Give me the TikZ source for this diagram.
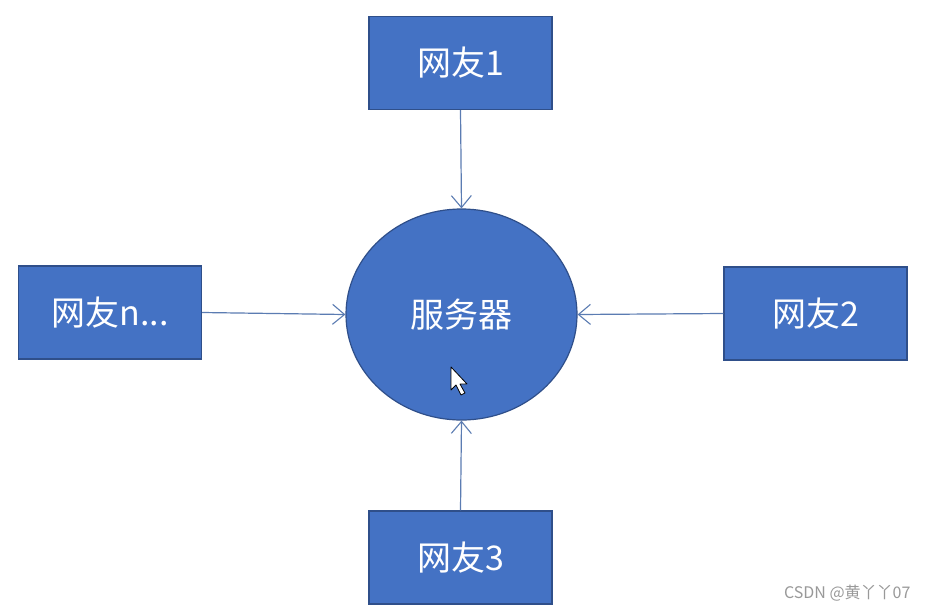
\documentclass[tikz,border=0pt]{standalone}
\usepackage{fontspec}
\newfontfamily\cjk{Noto Sans CJK SC}
\usetikzlibrary{arrows.meta,shapes.geometric}
\definecolor{boxfill}{HTML}{4472C4}
\definecolor{boxline}{HTML}{2F4F8A}
\definecolor{linkcol}{HTML}{5B7CB2}
\begin{document}
\begin{tikzpicture}[x=1pt,y=-1pt,
  friend/.style={draw=boxline,line width=1.2pt,fill=boxfill,minimum width=183pt,minimum height=93pt,inner sep=0pt,text=white,font=\cjk\fontsize{34}{38}\selectfont},
  server/.style={ellipse,draw=boxline,line width=1.2pt,fill=boxfill,minimum width=231pt,minimum height=211pt,inner sep=0pt,text=white,font=\cjk\fontsize{34}{38}\selectfont},
  link/.style={draw=linkcol,line width=1.2pt,-{Straight Barb[length=12pt,width=20pt,line width=1.1pt]}}]
\useasboundingbox (0,0) rectangle (929,611);
\fill[white] (0,0) rectangle (929,611);
\node[server] (srv) at (461.5,314.5) {服务器};
\node[friend] (f1) at (460.5,63) {网友1};
\node[friend] (fn) at (110,312.5) {网友n...};
\node[friend] (f2) at (815.5,313.5) {网友2};
\node[friend] (f3) at (460.5,557.5) {网友3};
\draw[link] (f1.south) -- (srv.north);
\draw[link] (fn.east) -- (srv.west);
\draw[link] (f2.west) -- (srv.east);
\draw[link] (f3.north) -- (srv.south);
\draw[fill=white,draw=black,line width=0.8pt,line join=round] (451,367) -- (451,390) -- (456,385) -- (461,395) -- (465,393) -- (460,384) -- (467,384) -- cycle;
\node[text=gray!80,font=\cjk\fontsize{16}{18}\selectfont,anchor=east] (wm) at (914,593) {CSDN @黄丫丫07};
\end{tikzpicture}
\end{document}
